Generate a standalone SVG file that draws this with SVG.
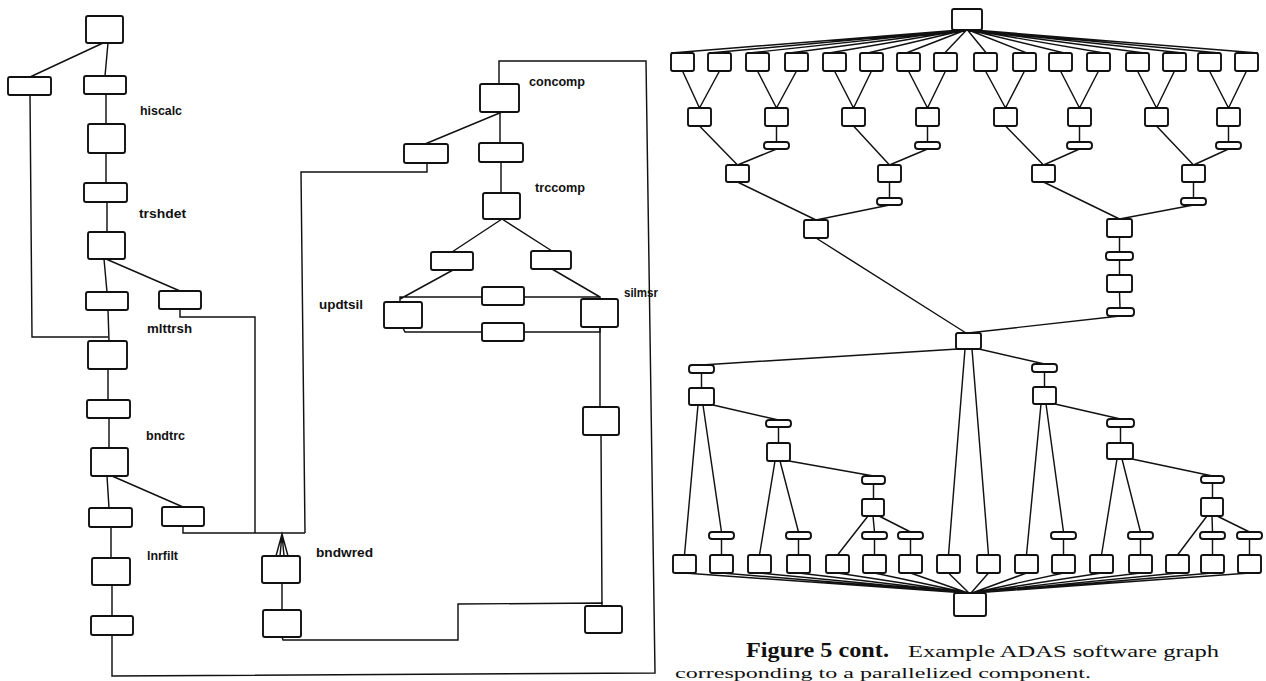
<svg xmlns="http://www.w3.org/2000/svg" width="1266" height="681" viewBox="0 0 1266 681">
<style>
.n{fill:#fff;stroke:#111;stroke-width:1.9}
.b{fill:#fff;stroke:#111;stroke-width:1.9}
.e{fill:none;stroke:#111;stroke-width:1.45;stroke-linejoin:miter}
.lbl{font-family:"Liberation Sans",Arial,sans-serif;font-weight:bold;font-size:12px;fill:#111}
.cap{font-family:"Liberation Serif","Times New Roman",serif;fill:#111}
</style>
<rect width="1266" height="681" fill="#fff"/>
<g id="connectors">
<!-- left graph -->
<path class="e" d="M103,43 L30,77 M108,43 L105,76 M106,94 L106,124 M106,153 L106,183 M107,202 L107,232 M104,259 L107,292 M106,259 L180,291 M108,310 L109,341 M30,95 L32,337 L108,337 M108,369 L108,400 M109,418 L109,448 M107,476 L109,508 M112,476 L183,507 M111,527 L111,558 M112,585 L112,616"/>
<path class="e" d="M112,635 L112,676 L655,673 L646,61 L499,61 L499,84"/>
<path class="e" d="M180,309 L180,317 L255,317 L255,533 M183,526 L183,533 L305,533 M427,163 L427,172 L301,172 L305,533"/>
<path class="e" d="M276,556 L282,534 L288,556 M280,556 L282,534 L284,556"/>
<path class="e" d="M282,583 L282,610 M282,637 L283,640 L458,640 L458,604 L602,603 L602,606 M600,327 L600,407 M601,435 L602,606"/>
<!-- middle graph -->
<path class="e" d="M502,112 L425,144 M500,112 L500,143 M501,162 L501,193 M502,219 L452,252 M502,219 L552,251 M453,270 L400,299 M552,269 L600,297 M400,302 L400,297 L600,297 L600,299 M403,328 L405,332 L600,332 L600,327"/>
<!-- right graph: top fan -->
<path class="e" d="M960,30 L671,53 M960.9,30 L709.5,53 M961.9,30 L749.1,53 M962.8,30 L789.6,53 M963.7,30 L829.1,53 M964.7,30 L867.7,53 M965.6,30 L906.2,53 M966.5,30 L944.7,53 M967.5,30 L986.3,53 M968.4,30 L1026.8,53 M969.3,30 L1064.3,53 M970.3,30 L1103.9,53 M971.2,30 L1144.4,53 M972.1,30 L1182.9,53 M973.1,30 L1219.5,53 M974,30 L1258,53"/>
<path class="e" d="M682.5,71 L699.5,108 M719.5,71 L699.5,108 M757.5,71 L776.5,108 M796.5,71 L776.5,108 M834.5,71 L853.5,108 M871.5,71 L853.5,108 M908.5,71 L927.5,108 M945.5,71 L927.5,108 M985.5,71 L1005.5,108 M1024.5,71 L1005.5,108 M1060.5,71 L1079.5,108 M1098.5,71 L1079.5,108 M1137.5,71 L1156.5,108 M1174.5,71 L1156.5,108 M1209.5,71 L1228.5,108 M1246.5,71 L1228.5,108"/>
<path class="e" d="M776.5,126 L776.5,142 M927.5,126 L927.5,142 M1079.5,126 L1079.5,142 M1228.5,126 L1228.5,142"/>
<path class="e" d="M699.5,126 L737.5,165 M776.5,149 L737.5,165 M853.5,126 L889.5,165 M927.5,149 L889.5,165 M1005.5,126 L1043.5,165 M1079.5,149 L1043.5,165 M1156.5,126 L1193.5,165 M1228.5,149 L1193.5,165"/>
<path class="e" d="M889.5,182 L889.5,198 M1193.5,182 L1193.5,198 M737.5,182 L816,220 M889.5,205 L816,220 M1043.5,182 L1119.5,219 M1193.5,205 L1119.5,219"/>
<path class="e" d="M1119.5,237 L1119.5,252 M1119.5,260 L1119.5,275 M1119.5,292 L1120,308 M1120,316 L968,333 M816,238 L966,333"/>
<path class="e" d="M958,349 L701.5,365 M701.5,373 L701.5,388 M979,349 L1044.5,364 M1044.5,372 L1044.5,387 M965,349 L948.5,555 M972,349 L988.5,555"/>
<path class="e" d="M698,405 L684.5,555 M703,405 L721.5,532 M713,405 L778.5,420 M778.5,427 L778.5,443 M775,461 L759.5,555 M780,461 L798.5,532 M789,461 L873.5,476 M873.5,484 L873.5,499 M868,516 L837.5,555 M873,516 L874.5,532 M879,516 L910.5,532"/>
<path class="e" d="M1041,404 L1026.5,555 M1046,404 L1063.5,532 M1055,404 L1120.5,419 M1120.5,427 L1120.5,443 M1117,459 L1101.5,555 M1122,459 L1140.5,532 M1132,459 L1212.5,476 M1212.5,483 L1212.5,498 M1207,516 L1177.5,555 M1212,516 L1212.5,532 M1217,516 L1249.5,532"/>
<path class="e" d="M721.5,539 L721.5,555 M798.5,539 L798.5,555 M874.5,539 L874.5,555 M910.5,539 L910.5,555 M1063.5,539 L1063.5,555 M1140.5,539 L1140.5,555 M1212.5,539 L1212.5,555 M1249.5,539 L1249.5,555"/>
<path class="e" d="M684.5,573 L966,593 M721.5,573 L966,593 M759.5,573 L966,593 M798.5,573 L967,593 M837.5,573 L967,593 M874.5,573 L968,593 M910.5,573 L968,593 M948.5,573 L969,593 M988.5,573 L971,593 M1026.5,573 L972,593 M1063.5,573 L972,593 M1101.5,573 L973,593 M1140.5,573 L973,593 M1177.5,573 L974,593 M1212.5,573 L974,593 M1249.5,573 L974,593"/>
</g>
<!-- left graph nodes -->
<g id="L-top"><rect class="n" x="86" y="16" width="37" height="27" rx="2"/></g>
<g id="L-side"><rect class="n" x="8" y="77" width="43" height="18" rx="2"/></g>
<g id="L-hiscalc-in"><rect class="n" x="84" y="76" width="42" height="18" rx="2"/></g>
<g id="L-hiscalc"><rect class="n" x="88" y="124" width="37" height="29" rx="2"/><text class="lbl" x="140" y="115" textLength="42" lengthAdjust="spacingAndGlyphs">hiscalc</text></g>
<g id="L-trshdet-in"><rect class="n" x="84" y="183" width="43" height="19" rx="2"/></g>
<g id="L-trshdet"><rect class="n" x="88" y="232" width="37" height="27" rx="2"/><text class="lbl" x="139" y="218" textLength="47" lengthAdjust="spacingAndGlyphs">trshdet</text></g>
<g id="L-mlttrsh-in"><rect class="n" x="86" y="292" width="42" height="18" rx="2"/></g>
<g id="L-mlttrsh-out"><rect class="n" x="159" y="291" width="42" height="18" rx="2"/></g>
<g id="L-mlttrsh"><rect class="n" x="88" y="341" width="39" height="28" rx="2"/><text class="lbl" x="147" y="333" textLength="45" lengthAdjust="spacingAndGlyphs">mlttrsh</text></g>
<g id="L-bndtrc-in"><rect class="n" x="87" y="400" width="43" height="18" rx="2"/></g>
<g id="L-bndtrc"><rect class="n" x="91" y="448" width="37" height="28" rx="2"/><text class="lbl" x="146" y="440" textLength="39" lengthAdjust="spacingAndGlyphs">bndtrc</text></g>
<g id="L-lnrfilt-in"><rect class="n" x="89" y="508" width="43" height="19" rx="2"/></g>
<g id="L-bndtrc-out"><rect class="n" x="162" y="507" width="42" height="19" rx="2"/></g>
<g id="L-lnrfilt"><rect class="n" x="92" y="558" width="38" height="27" rx="2"/><text class="lbl" x="147" y="560" textLength="31" lengthAdjust="spacingAndGlyphs">lnrfilt</text></g>
<g id="L-out"><rect class="n" x="91" y="616" width="42" height="19" rx="2"/></g>
<g id="M-bndwred"><rect class="n" x="262" y="556" width="38" height="27" rx="2"/><text class="lbl" x="316" y="557" textLength="57" lengthAdjust="spacingAndGlyphs">bndwred</text></g>
<g id="M-bndwred-out"><rect class="n" x="263" y="610" width="38" height="27" rx="2"/></g>
<g id="M-concomp"><rect class="n" x="480" y="84" width="39" height="28" rx="2"/><text class="lbl" x="529" y="86" textLength="56" lengthAdjust="spacingAndGlyphs">concomp</text></g>
<g id="M-cc-a"><rect class="n" x="404" y="144" width="44" height="19" rx="2"/></g>
<g id="M-cc-b"><rect class="n" x="479" y="143" width="44" height="19" rx="2"/></g>
<g id="M-trccomp"><rect class="n" x="483" y="193" width="37" height="26" rx="2"/><text class="lbl" x="535" y="192" textLength="50" lengthAdjust="spacingAndGlyphs">trccomp</text></g>
<g id="M-tc-a"><rect class="n" x="431" y="252" width="42" height="18" rx="2"/></g>
<g id="M-tc-b"><rect class="n" x="531" y="251" width="40" height="18" rx="2"/></g>
<g id="M-updtsil"><rect class="n" x="384" y="302" width="38" height="26" rx="2"/><text class="lbl" x="319" y="309" textLength="44" lengthAdjust="spacingAndGlyphs">updtsil</text></g>
<g id="M-mid-a"><rect class="n" x="482" y="287" width="42" height="18" rx="2"/></g>
<g id="M-mid-b"><rect class="n" x="482" y="323" width="42" height="18" rx="2"/></g>
<g id="M-silmsr"><rect class="n" x="581" y="299" width="37" height="28" rx="2"/><text class="lbl" x="624" y="297" textLength="34" lengthAdjust="spacingAndGlyphs">silmsr</text></g>
<g id="M-s2"><rect class="n" x="583" y="407" width="36" height="28" rx="2"/></g>
<g id="M-s3"><rect class="n" x="585" y="606" width="37" height="27" rx="2"/></g>
<!-- right graph -->
<g id="R-top"><rect class="n" x="952" y="9" width="30" height="21" rx="2"/></g>
<g id="R-row1">
<rect class="n" x="671" y="53" width="23" height="18" rx="2"/><rect class="n" x="708" y="53" width="23" height="18" rx="2"/><rect class="n" x="746" y="53" width="23" height="18" rx="2"/><rect class="n" x="785" y="53" width="23" height="18" rx="2"/><rect class="n" x="823" y="53" width="23" height="18" rx="2"/><rect class="n" x="860" y="53" width="23" height="18" rx="2"/><rect class="n" x="897" y="53" width="23" height="18" rx="2"/><rect class="n" x="934" y="53" width="23" height="18" rx="2"/><rect class="n" x="974" y="53" width="23" height="18" rx="2"/><rect class="n" x="1013" y="53" width="23" height="18" rx="2"/><rect class="n" x="1049" y="53" width="23" height="18" rx="2"/><rect class="n" x="1087" y="53" width="23" height="18" rx="2"/><rect class="n" x="1126" y="53" width="23" height="18" rx="2"/><rect class="n" x="1163" y="53" width="23" height="18" rx="2"/><rect class="n" x="1198" y="53" width="23" height="18" rx="2"/><rect class="n" x="1235" y="53" width="23" height="18" rx="2"/>
</g>
<g id="R-row2">
<rect class="n" x="688" y="108" width="23" height="18" rx="2"/><rect class="n" x="765" y="108" width="23" height="18" rx="2"/><rect class="n" x="842" y="108" width="23" height="18" rx="2"/><rect class="n" x="916" y="108" width="23" height="18" rx="2"/><rect class="n" x="994" y="108" width="23" height="18" rx="2"/><rect class="n" x="1068" y="108" width="23" height="18" rx="2"/><rect class="n" x="1145" y="108" width="23" height="18" rx="2"/><rect class="n" x="1217" y="108" width="23" height="18" rx="2"/>
</g>
<g id="R-row2-bars">
<rect class="b" x="764" y="142" width="25" height="7" rx="3"/><rect class="b" x="915" y="142" width="25" height="7" rx="3"/><rect class="b" x="1067" y="142" width="25" height="7" rx="3"/><rect class="b" x="1216" y="142" width="25" height="7" rx="3"/>
</g>
<g id="R-row3">
<rect class="n" x="726" y="165" width="23" height="17" rx="2"/><rect class="n" x="878" y="165" width="23" height="17" rx="2"/><rect class="n" x="1032" y="165" width="23" height="17" rx="2"/><rect class="n" x="1182" y="165" width="23" height="17" rx="2"/>
</g>
<g id="R-row3-bars">
<rect class="b" x="877" y="198" width="25" height="7" rx="3"/><rect class="b" x="1181" y="198" width="25" height="7" rx="3"/>
</g>
<g id="R-row4">
<rect class="n" x="804" y="220" width="24" height="18" rx="2"/><rect class="n" x="1107" y="219" width="25" height="18" rx="2"/>
</g>
<g id="R-chain">
<rect class="b" x="1106" y="252" width="27" height="8" rx="3"/><rect class="n" x="1107" y="275" width="25" height="17" rx="2"/><rect class="b" x="1107" y="308" width="27" height="8" rx="3"/>
</g>
<g id="R-center"><rect class="n" x="956" y="333" width="25" height="16" rx="2"/></g>
<g id="R-left-branch">
<rect class="b" x="689" y="365" width="25" height="8" rx="3"/><rect class="n" x="689" y="388" width="25" height="17" rx="2"/>
<rect class="b" x="766" y="420" width="25" height="7" rx="3"/><rect class="n" x="767" y="443" width="23" height="18" rx="2"/>
<rect class="b" x="862" y="476" width="23" height="8" rx="3"/><rect class="n" x="862" y="499" width="22" height="17" rx="2"/>
</g>
<g id="R-right-branch">
<rect class="b" x="1032" y="364" width="25" height="8" rx="3"/><rect class="n" x="1033" y="387" width="23" height="17" rx="2"/>
<rect class="b" x="1107" y="419" width="27" height="8" rx="3"/><rect class="n" x="1107" y="443" width="26" height="16" rx="2"/>
<rect class="b" x="1201" y="476" width="23" height="7" rx="3"/><rect class="n" x="1201" y="498" width="22" height="18" rx="2"/>
</g>
<g id="R-bottom-bars">
<rect class="b" x="709" y="532" width="25" height="7" rx="3"/><rect class="b" x="786" y="532" width="25" height="7" rx="3"/><rect class="b" x="862" y="532" width="25" height="7" rx="3"/><rect class="b" x="898" y="532" width="25" height="7" rx="3"/><rect class="b" x="1051" y="532" width="25" height="7" rx="3"/><rect class="b" x="1128" y="532" width="25" height="7" rx="3"/><rect class="b" x="1200" y="532" width="25" height="7" rx="3"/><rect class="b" x="1237" y="532" width="25" height="7" rx="3"/>
</g>
<g id="R-bottom-row">
<rect class="n" x="673" y="555" width="23" height="18" rx="2"/><rect class="n" x="710" y="555" width="23" height="18" rx="2"/><rect class="n" x="748" y="555" width="23" height="18" rx="2"/><rect class="n" x="787" y="555" width="23" height="18" rx="2"/><rect class="n" x="826" y="555" width="23" height="18" rx="2"/><rect class="n" x="863" y="555" width="23" height="18" rx="2"/><rect class="n" x="899" y="555" width="23" height="18" rx="2"/><rect class="n" x="937" y="555" width="23" height="18" rx="2"/><rect class="n" x="977" y="555" width="23" height="18" rx="2"/><rect class="n" x="1015" y="555" width="23" height="18" rx="2"/><rect class="n" x="1052" y="555" width="23" height="18" rx="2"/><rect class="n" x="1090" y="555" width="23" height="18" rx="2"/><rect class="n" x="1129" y="555" width="23" height="18" rx="2"/><rect class="n" x="1166" y="555" width="23" height="18" rx="2"/><rect class="n" x="1201" y="555" width="23" height="18" rx="2"/><rect class="n" x="1238" y="555" width="23" height="18" rx="2"/>
</g>
<g id="R-sink"><rect class="n" x="954" y="593" width="32" height="23" rx="2"/></g>
<g id="caption">
<text class="cap" x="746" y="657" font-size="20" font-weight="bold" textLength="143" lengthAdjust="spacingAndGlyphs">Figure 5 cont.</text>
<text class="cap" x="908" y="657" font-size="17" textLength="311" lengthAdjust="spacingAndGlyphs">Example ADAS software graph</text>
<text class="cap" x="675" y="678" font-size="15" textLength="416" lengthAdjust="spacingAndGlyphs">corresponding to a parallelized component.</text>
</g>
</svg>
